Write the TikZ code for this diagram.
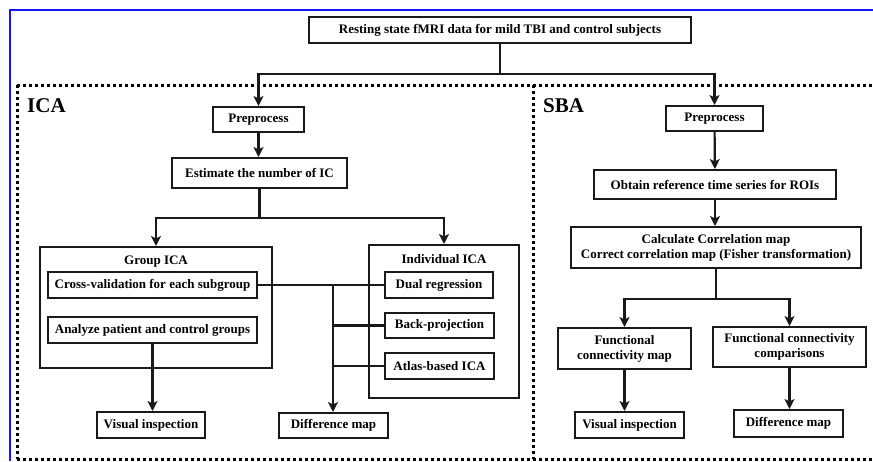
\documentclass[tikz,border=0pt]{standalone}
\usepackage{fontspec}
\setmainfont{Liberation Serif}
\usetikzlibrary{arrows.meta,positioning,calc}
\definecolor{frameblue}{RGB}{20,20,255}
\definecolor{inkgray}{RGB}{25,25,25}

\begin{document}
\begin{tikzpicture}[x=1pt, y=-1pt,
    box/.style={rectangle, draw=inkgray, line width=2pt,
                font=\fontsize{13}{15}\selectfont\bfseries,
                align=center, inner sep=1pt},
    frame/.style={rectangle, draw=inkgray, line width=2pt},
    title/.style={font=\fontsize{13}{15}\selectfont\bfseries, inner sep=0pt},
    part/.style={font=\fontsize{21}{24}\selectfont\bfseries,
                 anchor=north west, inner sep=0pt},
    dots/.style={line width=3pt, dash pattern=on 3pt off 3pt},
    arr/.style={-{Stealth[length=10pt, width=10pt, inset=2.5pt]}, line width=2.2pt, inkgray},
    conn/.style={line width=2.2pt, inkgray}
]
    \useasboundingbox (0,0) rectangle (873,461);
    \draw[frameblue, line width=2pt] (10,461) -- (10,10) -- (873,10);

    % dotted panels
    \draw[dots] (17,85) -- (873,85);
    \draw[dots] (17,85) -- (17,459);
    \draw[dots] (17,459) -- (873,459);
    \draw[dots] (533,85) -- (533,459);
    \node[part] (ica) at (27,98) {ICA};
    \node[part] (sba) at (543,98) {SBA};

    \node[box, minimum width=382, minimum height=26] (top) at (500,30)
        {Resting state fMRI data for mild TBI and control subjects};

    % ICA side
    \node[box, minimum width=91, minimum height=25] (ipre) at (258.5,119.5) {Preprocess};
    \node[box, minimum width=175, minimum height=30] (iest) at (259.5,173) {Estimate the number of IC};
    \node[frame, minimum width=232, minimum height=121] (grp) at (156,307.5) {};
    \node[title] (grpt) at (156,262) {Group ICA};
    \node[box, minimum width=209, minimum height=26] (cross) at (152.5,285) {Cross-validation for each subgroup};
    \node[box, minimum width=209, minimum height=26] (anal) at (152.5,330) {Analyze patient and control groups};
    \node[frame, minimum width=150, minimum height=153] (ind) at (444,321.5) {};
    \node[title] (indt) at (444,259) {Individual ICA};
    \node[box, minimum width=108, minimum height=26] (dual) at (439,285) {Dual regression};
    \node[box, minimum width=109, minimum height=25] (back) at (439.5,325.5) {Back-projection};
    \node[box, minimum width=109, minimum height=26] (atlas) at (439.5,366) {Atlas-based ICA};
    \node[box, minimum width=108, minimum height=26] (ivis) at (151,425) {Visual inspection};
    \node[box, minimum width=109, minimum height=25] (idiff) at (333.5,425.5) {Difference map};

    % SBA side
    \node[box, minimum width=97, minimum height=25] (spre) at (714.5,118.5) {Preprocess};
    \node[box, minimum width=242, minimum height=29] (sobt) at (715,184.5) {Obtain reference time series for ROIs};
    \node[box, minimum width=290, minimum height=41] (scalc) at (716,247.5)
        {Calculate Correlation map\\Correct correlation map (Fisher transformation)};
    \node[box, minimum width=133, minimum height=41] (sfmap) at (624.5,348.5) {Functional\\connectivity map};
    \node[box, minimum width=153, minimum height=40] (sfcmp) at (789.5,347) {Functional connectivity\\comparisons};
    \node[box, minimum width=109, minimum height=26] (svis) at (629.5,425) {Visual inspection};
    \node[box, minimum width=109, minimum height=27] (sdiff) at (788.5,423.5) {Difference map};

    % connectors
    \foreach \n in {ipre,spre} \draw[arr] (top.south) -- ++(0,30) -| (\n.north);
    \draw[arr] (ipre.south) -- (ipre.south |- iest.north);
    \foreach \n in {grp,ind} \draw[arr] (iest.south) -- ++(0,29) -| (\n.north);
    \draw[arr] (anal.south) -- (anal.south |- ivis.north);
    \draw[conn] (cross.east) -- (dual.west);
    \coordinate (join) at (333,285);
    \draw[arr] (join) -- (join |- idiff.north);
    \foreach \n in {back,atlas} \draw[conn] (join |- \n.west) -- (\n.west);

    \draw[arr] (spre) -- (sobt);
    \draw[arr] (sobt) -- (sobt |- scalc.north);
    \foreach \n in {sfmap,sfcmp} \draw[arr] (scalc.south) -- ++(0,30) -| (\n.north);
    \draw[arr] (sfmap) -- (sfmap |- svis.north);
    \draw[arr] (sfcmp) -- (sfcmp |- sdiff.north);
\end{tikzpicture}
\end{document}
